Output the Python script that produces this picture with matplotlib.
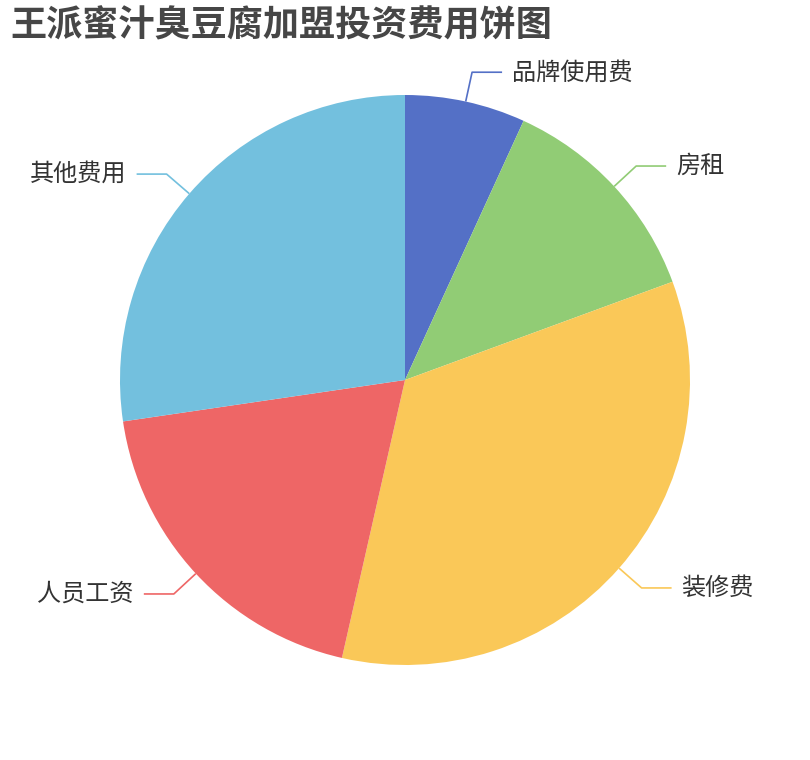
import matplotlib
matplotlib.use("Agg")
import matplotlib.pyplot as plt
import numpy as np

plt.rcParams['font.family'] = ['Noto Sans CJK SC', 'DejaVu Sans']

title = "王派蜜汁臭豆腐加盟投资费用饼图"
categories = ["品牌使用费", "房租", "装修费", "人员工资", "其他费用"]
values = [2.5, 4.6, 12.5, 7.0, 10.0]
colors = ["#5470c6", "#91cc75", "#fac858", "#ee6666", "#73c0de"]

W, H = 810, 760
fig = plt.figure(figsize=(W / 100, H / 100), dpi=100)
ax = fig.add_axes([0, 0, 1, 1])

cx, cy, R = 405, 380, 285
wedges, _ = ax.pie(values, colors=colors, startangle=90, counterclock=False,
                   center=(cx, cy), radius=R, frame=True,
                   wedgeprops=dict(linewidth=0))
ax.set_xlim(0, W)
ax.set_ylim(0, H)
ax.set_aspect('equal')
ax.axis('off')

len1, len2, gap = 30, 30, 10
for w, name, col in zip(wedges, categories, colors):
    mid = np.deg2rad((w.theta1 + w.theta2) / 2)
    ux, uy = np.cos(mid), np.sin(mid)
    x0, y0 = cx + R * ux, cy + R * uy
    x1, y1 = cx + (R + len1) * ux, cy + (R + len1) * uy
    side = 1 if ux >= 0 else -1
    x2 = x1 + side * len2
    ax.plot([x0, x1, x2], [y0, y1, y1], color=col, lw=1.2, solid_capstyle='butt')
    ax.text(x2 + side * gap, y1, name, ha='left' if side > 0 else 'right',
            va='center', fontsize=17.4, color='#333333')

fig.text(10 / W, 1 - 26 / H, title, ha='left', va='center', fontsize=26,
         fontweight='bold', color='#464646')

fig.savefig("out.png", dpi=100)
